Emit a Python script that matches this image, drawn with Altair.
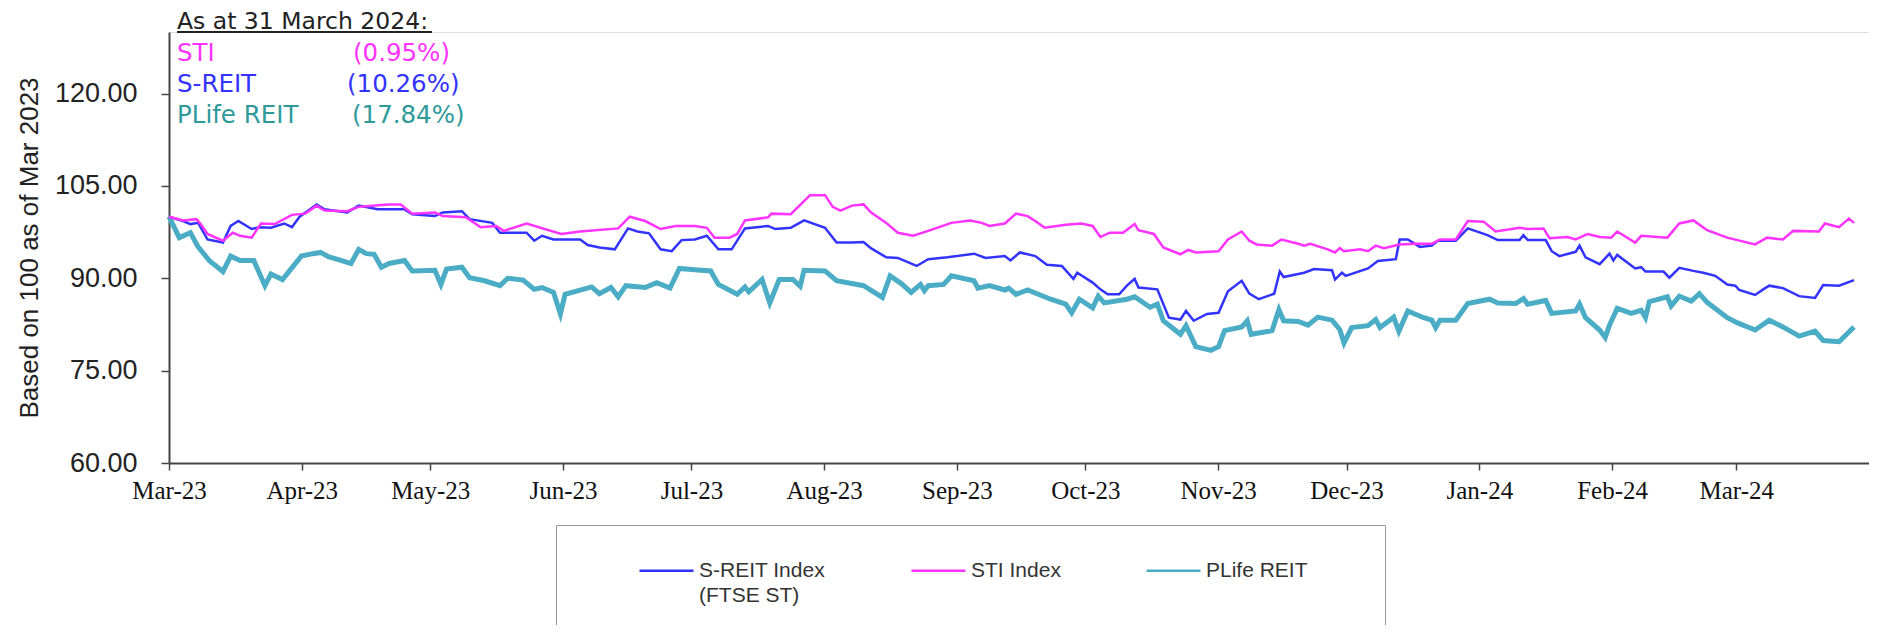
import altair as alt
import pandas as pd

# ---------------- data ----------------
series_names = ["S-REIT Index", "STI Index", "PLife REIT"]
series_colors = ["#3333FF", "#FF33FF", "#4BACC6"]
series_widths = {"S-REIT Index": 2.5, "STI Index": 2.5, "PLife REIT": 5}

start_date = "2023-03-01"  # day offsets below are days since this date

sti_days = [0, 3.3, 6.4, 7.3, 9.0, 12.6, 14.9, 16.6, 19.3, 21.5, 24.7, 28.7, 31.8, 34.5, 36.3, 41.6, 44.3,
            49.6, 51.4, 54.1, 56.8, 62.1, 63.9, 69.3, 72.8, 76.4, 78.2, 83.5, 91.6, 96.0, 104.9, 107.6,
            111.2, 114.8, 118.3, 122.8, 125.6, 127.4, 130.9, 132.7, 134.5, 139.9, 140.7, 145.2, 149.7,
            153.2, 155.0, 156.8, 159.5, 162.2, 163.9, 167.5, 170.2, 173.8, 177.3, 182.7, 187.1, 189.8,
            191.6, 195.2, 197.8, 200.5, 202.3, 204.5, 209.4, 213.0, 215.7, 217.5, 219.7, 222.8, 225.5,
            226.4, 230.0, 232.2, 236.2, 238.0, 239.8, 245.1, 247.3, 250.5, 252.3, 254.0, 257.6, 259.8,
            263.7, 265.1, 266.5, 270.6, 272.3, 273.4, 274.4, 278.1, 280.0, 281.8, 283.7, 287.4, 291.2,
            294.9, 296.8, 300.5, 303.3, 307.0, 309.8, 313.5, 315.4, 317.3, 321.0, 322.4, 326.6, 328.5,
            331.3, 334.1, 336.8, 338.2, 342.4, 343.8, 349.9, 352.7, 356.0, 359.2, 363.9, 370.4, 373.2,
            376.9, 379.3, 385.3, 386.7, 390.0, 392.3, 393.5]
sti_vals = [100.0, 99.4, 99.6, 98.9, 97.2, 96.1, 97.4, 96.9, 96.6, 98.9, 98.8, 100.3, 100.5, 101.8, 101.0,
            100.9, 101.6, 101.9, 102.0, 102.0, 100.5, 100.7, 100.1, 99.9, 98.3, 98.5, 97.7, 98.9, 97.2,
            97.6, 98.1, 100.0, 99.3, 98.0, 98.5, 98.5, 98.2, 96.6, 96.6, 97.2, 99.4, 99.9, 100.5, 100.4,
            103.5, 103.5, 101.6, 101.0, 101.8, 102.0, 100.7, 99.0, 97.4, 96.9, 97.7, 99.0, 99.4, 99.0,
            98.5, 98.9, 100.5, 100.1, 99.3, 98.2, 98.7, 98.9, 98.5, 96.7, 97.4, 97.4, 98.8, 97.8, 97.2,
            95.0, 93.9, 94.6, 94.2, 94.4, 96.3, 97.6, 96.1, 95.5, 95.3, 96.3, 95.6, 95.3, 95.6, 94.7,
            94.2, 94.9, 94.4, 94.7, 94.4, 95.3, 94.9, 95.5, 95.6, 95.6, 96.3, 96.3, 99.3, 99.2, 97.6,
            98.0, 98.2, 98.0, 98.1, 96.5, 96.7, 96.3, 97.2, 96.7, 96.6, 97.6, 95.8, 96.9, 96.6, 98.9,
            99.4, 97.8, 96.6, 95.5, 96.6, 96.3, 97.7, 97.6, 98.9, 98.3, 99.7, 99.0]

sreit_days = [0, 3.3, 5.0, 6.8, 9.0, 12.6, 14.4, 16.2, 19.3, 21.1, 23.8, 26.9, 28.7, 30.5, 34.5, 36.3,
              41.6, 44.3, 48.7, 55.0, 56.8, 62.1, 63.9, 68.4, 70.2, 75.5, 77.3, 83.5, 85.3, 87.1, 89.8,
              96.0, 97.8, 100.5, 104.1, 107.2, 109.4, 112.1, 114.8, 117.4, 119.7, 122.8, 125.6, 128.3,
              131.4, 134.5, 139.9, 141.6, 145.2, 148.3, 153.2, 155.9, 159.5, 162.2, 163.9, 167.5, 170.2,
              174.6, 177.3, 181.8, 188.0, 190.7, 195.2, 196.5, 198.7, 202.3, 205.0, 208.5, 211.2, 212.1,
              215.7, 217.5, 219.2, 221.9, 223.7, 225.5, 226.4, 230.8, 233.5, 236.2, 237.5, 239.3, 242.4,
              245.1, 247.3, 250.5, 252.3, 254.5, 258.1, 259.4, 260.3, 263.7, 265.1, 267.4, 271.6, 272.3,
              273.9, 274.8, 280.0, 282.3, 286.5, 287.4, 289.3, 292.1, 294.9, 296.3, 300.5, 303.3, 307.9,
              310.3, 315.4, 316.3, 317.3, 321.5, 322.9, 324.7, 328.5, 329.4, 330.8, 334.1, 336.4, 337.3,
              338.2, 342.4, 343.8, 344.8, 349.0, 350.4, 352.7, 356.0, 358.3, 361.1, 363.9, 365.8, 366.7,
              370.4, 372.3, 373.7, 376.9, 380.7, 384.4, 386.3, 390.0, 393.5]
sreit_vals = [100.0, 99.3, 98.8, 99.0, 96.3, 95.8, 98.5, 99.3, 98.0, 98.3, 98.2, 98.9, 98.3, 100.0, 102.0,
              101.2, 100.7, 101.8, 101.2, 101.2, 100.4, 100.1, 100.7, 100.9, 99.6, 99.0, 97.4, 97.4, 96.1,
              96.9, 96.3, 96.3, 95.4, 95.0, 94.7, 98.1, 97.6, 97.3, 94.7, 94.4, 96.2, 96.3, 96.9, 94.7,
              94.7, 98.1, 98.5, 98.0, 98.2, 99.4, 98.2, 95.8, 95.8, 95.9, 94.9, 93.4, 93.3, 92.0, 93.1,
              93.4, 94.0, 93.3, 93.6, 92.9, 94.2, 93.6, 92.2, 92.0, 89.9, 90.9, 89.3, 88.2, 87.4, 87.4,
              88.8, 89.9, 88.5, 88.2, 83.6, 83.3, 84.7, 83.1, 84.2, 84.4, 87.9, 89.6, 87.5, 86.6, 87.5,
              91.1, 90.2, 90.7, 90.9, 91.5, 91.3, 89.8, 90.9, 90.4, 91.6, 92.8, 93.1, 96.3, 96.3, 95.1,
              95.3, 96.1, 96.1, 98.1, 97.0, 96.2, 96.2, 97.0, 96.2, 96.2, 94.4, 93.6, 94.3, 95.3, 93.4,
              92.3, 94.0, 92.9, 93.8, 91.6, 91.8, 91.1, 91.1, 90.1, 91.7, 91.2, 90.9, 90.4, 89.0, 88.8,
              88.1, 87.3, 88.2, 88.8, 88.4, 87.1, 86.8, 88.9, 88.8, 89.7]

plife_days = [0, 2.4, 5.0, 6.8, 9.5, 12.6, 14.4, 16.6, 19.8, 22.4, 23.8, 26.5, 28.7, 30.9, 33.6, 35.4,
              37.2, 40.7, 42.5, 44.3, 46.1, 47.9, 49.6, 51.4, 55.0, 56.8, 62.1, 63.5, 64.8, 68.4, 70.2,
              73.7, 77.3, 79.1, 82.7, 85.3, 87.1, 89.8, 91.4, 92.5, 98.7, 100.5, 103.2, 104.9, 106.7,
              111.2, 113.9, 117.0, 119.2, 122.8, 126.5, 128.3, 132.7, 134.5, 135.4, 138.5, 140.3, 142.5,
              145.7, 147.4, 148.3, 153.2, 155.9, 162.2, 166.6, 168.4, 171.1, 173.3, 175.5, 176.4, 177.3,
              180.9, 182.7, 188.0, 188.9, 191.6, 195.2, 196.1, 197.8, 200.5, 205.9, 209.4, 210.8, 212.6,
              215.7, 217.0, 218.4, 223.7, 225.5, 229.1, 230.8, 232.2, 236.2, 237.5, 239.8, 243.3, 245.1,
              246.5, 250.5, 251.8, 252.7, 257.6, 259.2, 260.3, 263.7, 266.0, 268.3, 271.6, 273.4, 274.4,
              276.2, 280.0, 281.8, 282.8, 285.1, 286.0, 287.2, 289.3, 293.0, 294.9, 295.8, 296.8, 300.5,
              303.3, 308.4, 310.3, 314.5, 316.3, 317.3, 321.5, 322.9, 328.5, 329.4, 330.8, 334.1, 335.4,
              336.4, 338.2, 341.5, 343.8, 344.8, 345.7, 349.9, 350.8, 352.7, 355.5, 357.4, 359.2, 363.9,
              366.2, 370.4, 373.7, 376.9, 380.7, 384.4, 386.3, 390.0, 391.9, 393.5]
plife_vals = [100.0, 96.6, 97.4, 95.1, 92.8, 91.1, 93.6, 92.9, 92.9, 88.8, 90.7, 89.8, 91.7, 93.6, 94.0,
              94.2, 93.5, 92.8, 92.4, 94.7, 94.0, 93.9, 91.8, 92.4, 92.9, 91.2, 91.3, 89.0, 91.5, 91.8,
              90.1, 89.6, 88.8, 90.0, 89.7, 88.2, 88.5, 87.7, 84.2, 87.4, 88.6, 87.5, 88.5, 87.0, 88.8,
              88.5, 89.3, 88.4, 91.6, 91.4, 91.2, 89.0, 87.4, 88.6, 87.8, 89.8, 86.0, 89.8, 89.8, 88.7,
              91.3, 91.2, 89.6, 88.8, 86.9, 90.4, 89.1, 87.7, 89.0, 88.0, 88.8, 89.0, 90.4, 89.6, 88.4,
              88.8, 88.1, 88.4, 87.4, 88.1, 86.6, 85.8, 84.4, 86.6, 85.2, 87.1, 86.0, 86.6, 87.0, 85.3,
              85.8, 83.1, 80.9, 82.3, 78.9, 78.3, 78.9, 81.5, 82.1, 83.1, 80.9, 81.5, 84.9, 83.1, 83.0,
              82.4, 83.7, 83.2, 81.7, 79.5, 82.0, 82.3, 83.3, 82.0, 83.2, 83.7, 81.4, 84.7, 83.6, 83.2,
              82.0, 83.2, 83.2, 85.9, 86.6, 86.0, 85.9, 86.7, 85.8, 86.4, 84.3, 84.7, 85.8, 83.6, 81.6,
              80.4, 82.4, 85.1, 84.3, 84.8, 83.6, 86.2, 87.0, 85.5, 87.1, 86.3, 87.5, 86.1, 83.6, 82.8,
              81.6, 83.2, 82.1, 80.6, 81.4, 79.9, 79.7, 81.0, 82.1]

y_ticks = [60, 75, 90, 105, 120]
y_title = "Based on 100 as of Mar 2023"
header_text = "As at 31 March 2024:"
annot_names = ["STI", "S-REIT", "PLife REIT"]
annot_pcts = ["(0.95%)", "(10.26%)", "(17.84%)"]
annot_colors = ["#FF33FF", "#3333FF", "#2E9A9A"]
legend_second_line = "(FTSE ST)"

# ---------------- tables ----------------
base = pd.Timestamp(start_date)


def make_frame(name, days, vals):
    return pd.DataFrame({"series": name,
                         "date": base + pd.to_timedelta(days, unit="D"),
                         "value": vals})


series_frames = [("PLife REIT", make_frame("PLife REIT", plife_days, plife_vals)),
                 ("S-REIT Index", make_frame("S-REIT Index", sreit_days, sreit_vals)),
                 ("STI Index", make_frame("STI Index", sti_days, sti_vals))]

month_ticks = [alt.DateTime(year=2023 + (2 + i) // 12, month=(2 + i) % 12 + 1, date=1) for i in range(13)]

# blank (non-whitespace) padding after the last legend label widens the legend frame on the right
legend_spec = alt.Legend(
    orient="none", legendX=387, legendY=493, direction="horizontal",
    title="\u00a0", titleOrient="left", titleFont="Liberation Sans", titleFontSize=100,
    titlePadding=65,
    symbolType="stroke", symbolSize=2916, symbolStrokeWidth=2.5,
    labelFont="Liberation Sans", labelFontSize=21, labelColor="#333", labelLimit=400,
    labelOffset=4, columnPadding=80, padding=17, labelBaseline="middle",
    strokeColor="#999",
    labelExpr="datum.label == 'PLife REIT' ? 'PLife REIT\u2800\u2800\u2800\u2800' : datum.label",
)

x_enc = alt.X("date:T",
              scale=alt.Scale(domain=[alt.DateTime(year=2023, month=3, date=1),
                                      alt.DateTime(year=2024, month=4, date=1)]),
              axis=alt.Axis(values=month_ticks, format="%b-%y", title=None, grid=False,
                            labelFont="Liberation Serif", labelFontSize=25, labelColor="#111",
                            tickSize=7, labelPadding=8, labelOverlap=False, labelFlush=False,
                            domainColor="#444", domainWidth=2, tickColor="#444", tickWidth=1.5))
y_enc = alt.Y("value:Q",
              scale=alt.Scale(domain=[60, 130], nice=False, zero=False),
              axis=alt.Axis(values=y_ticks, format=".2f", title=y_title, grid=False,
                            labelFont="Liberation Sans", labelFontSize=27, labelColor="#222",
                            tickSize=8, labelPadding=24,
                            titleFont="Liberation Sans", titleFontSize=26, titleFontWeight="normal",
                            titleColor="#222", titlePadding=12,
                            domainColor="#444", domainWidth=2, tickColor="#444", tickWidth=1.5))
c_enc = alt.Color("series:N", scale=alt.Scale(domain=series_names, range=series_colors),
                  legend=legend_spec)

layers = []
for name, frame in series_frames:
    layers.append(alt.Chart(frame).mark_line(interpolate="linear", strokeWidth=series_widths[name])
                  .encode(x=x_enc, y=y_enc, color=c_enc))

# second line of the first legend label
layers.append(alt.Chart(pd.DataFrame({"t": [legend_second_line]})).mark_text(
    align="left", baseline="alphabetic", font="Liberation Sans", fontSize=21, color="#333"
).encode(text="t:N", x=alt.value(530), y=alt.value(570)))

# header text + underline
layers.append(alt.Chart(pd.DataFrame({"t": [header_text]})).mark_text(
    align="left", baseline="alphabetic", font="DejaVu Sans", fontSize=23.5, color="#222"
).encode(text="t:N", x=alt.value(8), y=alt.value(-3)))
layers.append(alt.Chart(pd.DataFrame({"t": [header_text]})).mark_rule(
    color="#222", strokeWidth=2
).encode(x=alt.value(8), x2=alt.value(263), y=alt.value(0)))

name_x = 8
pct_x = [184, 178, 183]
row_y = [29, 60, 91]
for i in range(3):
    layers.append(alt.Chart(pd.DataFrame({"t": [annot_names[i]]})).mark_text(
        align="left", baseline="alphabetic", font="DejaVu Sans", fontSize=24.5, color=annot_colors[i]
    ).encode(text="t:N", x=alt.value(name_x), y=alt.value(row_y[i])))
    layers.append(alt.Chart(pd.DataFrame({"t": [annot_pcts[i]]})).mark_text(
        align="left", baseline="alphabetic", font="DejaVu Sans", fontSize=24.5, color=annot_colors[i]
    ).encode(text="t:N", x=alt.value(pct_x[i]), y=alt.value(row_y[i])))

chart = alt.layer(*layers).properties(
    width=1700, height=431,
    padding={"left": 161, "top": 24, "right": 0, "bottom": 162},
    autosize=alt.AutoSizeParams(type="none"),
).configure_view(stroke="#8c8c8c", strokeWidth=1.5).configure(background="white")

chart.save("out.html", embed_options={"renderer": "svg", "actions": False})
